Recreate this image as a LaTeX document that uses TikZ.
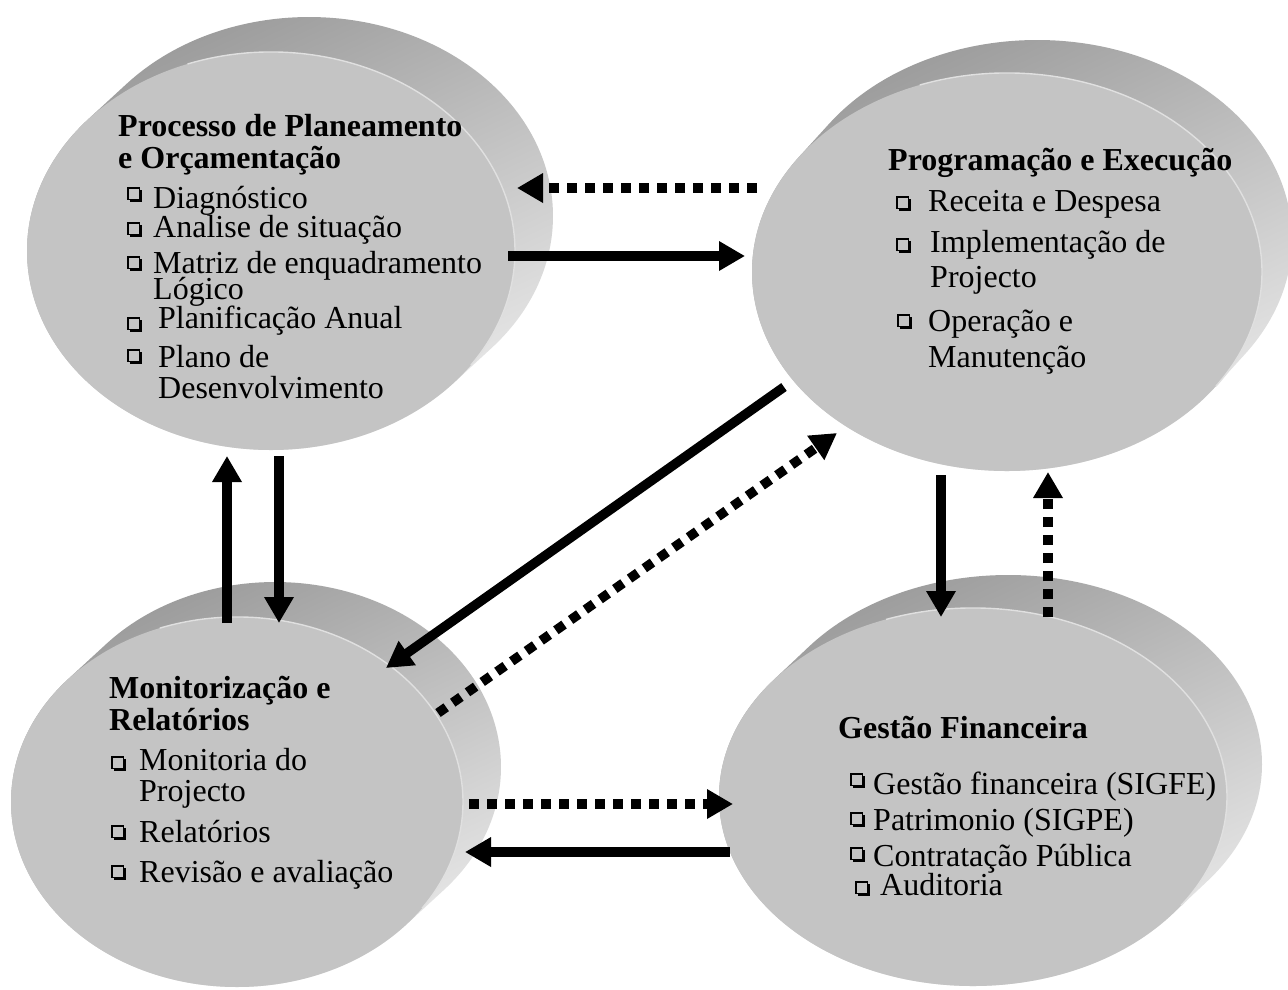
\documentclass[tikz,border=0pt]{standalone}
\usepackage{fontspec}
\setmainfont{Liberation Serif}
\usetikzlibrary{arrows.meta}
\definecolor{face}{RGB}{196,196,196}
\definecolor{bandA}{RGB}{150,150,150}
\definecolor{bandB}{RGB}{224,224,224}
\definecolor{bandC}{RGB}{238,238,238}
\definecolor{rimc}{RGB}{224,224,224}
\newcommand\mydisc[6]{%
  \pgfmathsetmacro\tA{atan2(#4*#5,#3*#6)}%
  \pgfmathsetmacro\tB{\tA+180}%
  \pgfmathsetmacro\tC{\tA+360}%
  \path[band] ({#1+#5},{#2-#6}) ++(\tB:#3 and #4)
     arc[start angle=\tB,end angle=\tC,x radius=#3,y radius=#4]
     -- ++({-#5},{#6})
     arc[start angle=\tA,end angle=\tB,x radius=#3,y radius=#4] -- cycle;
  \fill[face] (#1,#2) ellipse [x radius=#3, y radius=#4];
  \draw[rimc, line width=1.4pt] (#1,#2) ++(250:#3 and #4)
     arc[start angle=250,end angle=395,x radius=#3,y radius=#4];
}
\tikzset{
  band/.style={top color=bandA, middle color=bandB, bottom color=bandC, shading angle=25},
  ttl/.style={anchor=base west, inner sep=0pt, font=\fontsize{32}{36}\selectfont\bfseries},
  itm/.style={anchor=base west, inner sep=0pt, font=\fontsize{32}{36}\selectfont},
  bx/.pic={\draw[line width=1.2pt] (0,0) rectangle (11.5,11.5);
           \fill (2,11) rectangle (14,14);
           \fill (11,2) rectangle (14,14);},
  solidarr/.style={line width=9.5pt, -{Triangle[length=26pt,width=28pt]}},
  dotarr/.style={line width=9.5pt, dash pattern=on 10pt off 8pt, -{Triangle[length=26pt,width=28pt]}}
}
\begin{document}
\begin{tikzpicture}[x=1pt,y=-1pt]
\useasboundingbox (0,0) rectangle (1288,989);
\fill[white] (0,0) rectangle (1288,989);

% discs
\mydisc{271}{251}{244}{199}{38}{35}
\mydisc{1007}{272}{255}{199}{30}{33}
\mydisc{237}{802}{226}{185}{38}{35}
\mydisc{973}{797}{254}{189}{35}{33}

% top-left text
\node[ttl] (p1) at (118,136) {Processo de Planeamento};
\node[ttl] (p2) at (118,168) {e Orçamentação};
\pic at (128,188) {bx};
\node[itm] (p3) at (153,208) {Diagnóstico};
\pic at (128,223) {bx};
\node[itm] (p4) at (153,237) {Analise de situação};
\pic at (128,257) {bx};
\node[itm] (p5) at (153,273) {Matriz de enquadramento};
\node[itm] (p6) at (153,299) {Lógico};
\pic at (128,318) {bx};
\node[itm] (p7) at (158,328) {Planificação Anual};
\pic at (128,350) {bx};
\node[itm] (p8) at (158,367) {Plano de};
\node[itm] (p9) at (158,398) {Desenvolvimento};

% top-right text
\node[ttl] (q1) at (888,170) {Programação e Execução};
\pic at (897,197) {bx};
\node[itm] (q2) at (928,211) {Receita e Despesa};
\pic at (897,239) {bx};
\node[itm] (q3) at (930,252) {Implementação de};
\node[itm] (q4) at (930,287) {Projecto};
\pic at (898,315) {bx};
\node[itm] (q5) at (928,331) {Operação e};
\node[itm] (q6) at (928,367) {Manutenção};

% bottom-left text
\node[ttl] (m1) at (109,698) {Monitorização e};
\node[ttl] (m2) at (109,730) {Relatórios};
\pic at (112,757) {bx};
\node[itm] (m3) at (139,770) {Monitoria do};
\node[itm] (m4) at (139,801) {Projecto};
\pic at (112,826) {bx};
\node[itm] (m5) at (139,842) {Relatórios};
\pic at (112,866) {bx};
\node[itm] (m6) at (139,882) {Revisão e avaliação};

% bottom-right text
\node[ttl] (g1) at (838,738) {Gestão Financeira};
\pic at (851,774) {bx};
\node[itm] (g2) at (873,794) {Gestão financeira (SIGFE)};
\pic at (851,813) {bx};
\node[itm] (g3) at (873,830) {Patrimonio (SIGPE)};
\pic at (851,848) {bx};
\node[itm] (g4) at (873,866) {Contratação Pública};
\pic at (856,882) {bx};
\node[itm] (g5) at (880,895) {Auditoria};

% connector end points
\coordinate (a1s) at (757,188);  \coordinate (a1e) at (517,188);
\coordinate (a2s) at (508,256);  \coordinate (a2e) at (745,256);
\coordinate (a3s) at (784,387);  \coordinate (a3e) at (386,668);
\coordinate (a4s) at (438,713);  \coordinate (a4e) at (837,433);
\coordinate (a5s) at (227,623);  \coordinate (a5e) at (227,456);
\coordinate (a6s) at (279,456);  \coordinate (a6e) at (279,623);
\coordinate (a7s) at (941,475);  \coordinate (a7e) at (941,617);
\coordinate (a8s) at (1048,617); \coordinate (a8e) at (1048,472);
\coordinate (a9s) at (469,804);  \coordinate (a9e) at (733,804);
\coordinate (a10s) at (730,852); \coordinate (a10e) at (465,852);

\draw[dotarr] (a1s) -- (a1e);
\draw[solidarr] (a2s) -- (a2e);
\draw[solidarr] (a3s) -- (a3e);
\draw[dotarr] (a4s) -- (a4e);
\draw[solidarr] (a5s) -- (a5e);
\draw[solidarr] (a6s) -- (a6e);
\draw[solidarr] (a7s) -- (a7e);
\draw[dotarr] (a8s) -- (a8e);
\draw[dotarr] (a9s) -- (a9e);
\draw[solidarr] (a10s) -- (a10e);
\end{tikzpicture}
\end{document}
